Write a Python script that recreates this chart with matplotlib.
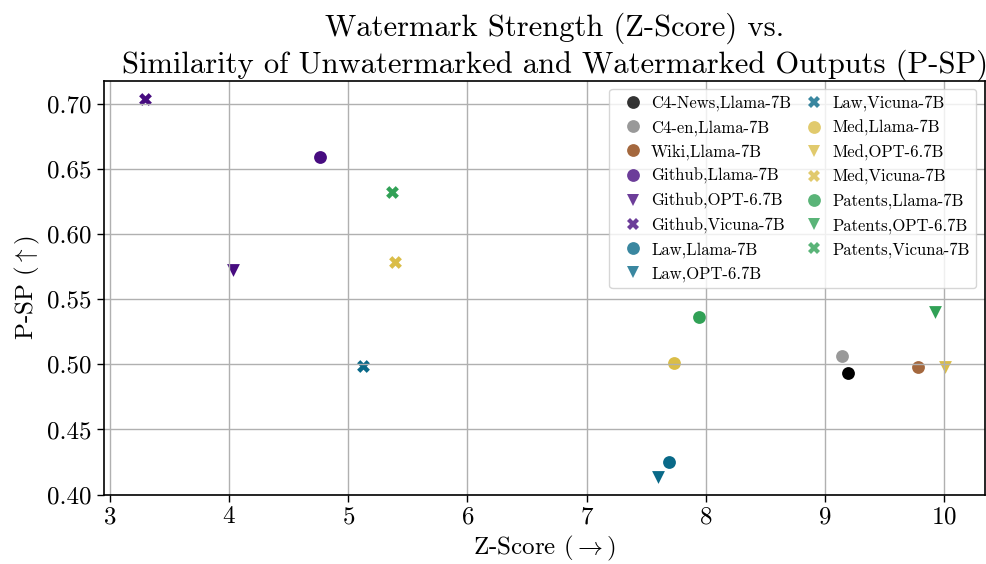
import matplotlib
matplotlib.use("Agg")
import matplotlib.pyplot as plt
from matplotlib.lines import Line2D

plt.rcParams['font.family'] = ['cmr10', 'DejaVu Serif']
plt.rcParams['mathtext.fontset'] = 'cm'
plt.rcParams['axes.formatter.use_mathtext'] = True
plt.rcParams['axes.unicode_minus'] = False

# Data
labels = ["C4-News,Llama-7B", "C4-en,Llama-7B", "Wiki,Llama-7B",
          "Github,Llama-7B", "Github,OPT-6.7B", "Github,Vicuna-7B",
          "Law,Llama-7B", "Law,OPT-6.7B", "Law,Vicuna-7B",
          "Med,Llama-7B", "Med,OPT-6.7B", "Med,Vicuna-7B",
          "Patents,Llama-7B", "Patents,OPT-6.7B", "Patents,Vicuna-7B"]
z_score = [9.19, 9.14, 9.78,
           4.765, 4.03, 3.29,
           7.694, 7.60, 5.12,
           7.733, 10.005, 5.394,
           7.942, 9.926, 5.366]
p_sp = [0.4935, 0.5065, 0.4982,
        0.6596, 0.5725, 0.7040,
        0.4247, 0.4138, 0.4986,
        0.5011, 0.4978, 0.5790,
        0.5364, 0.5405, 0.6323]

# Styles
dataset_colors = {"C4-News": "#000000", "C4-en": "#808080", "Wiki": "#8e420e",
                  "Github": "#470c80", "Law": "#096988", "Med": "#dabd48",
                  "Patents": "#31a156"}
dataset_alpha = {"C4-News": 1.0, "C4-en": 0.8, "Wiki": 0.8, "Github": 1.0,
                 "Law": 1.0, "Med": 1.0, "Patents": 1.0}
model_markers = {"Llama-7B": "o", "OPT-6.7B": "v", "Vicuna-7B": "X"}

fig = plt.figure(figsize=(9.87, 5.64), dpi=100)
ax = fig.add_axes([0.1049, 0.1232, 0.8926, 0.7337])

handles = []
for lab, x, y in zip(labels, z_score, p_sp):
    ds, model = lab.split(",")
    ax.scatter([x], [y], s=85, marker=model_markers[model], color=dataset_colors[ds],
               alpha=dataset_alpha[ds], linewidths=0, zorder=1)
    handles.append(Line2D([], [], linestyle="none", marker=model_markers[model],
                          markersize=9.2, markeredgewidth=0,
                          color=dataset_colors[ds], alpha=0.8, label=lab))

ax.set_xlim(2.945, 10.34)
ax.set_ylim(0.40, 0.718)
ax.set_xticks([3, 4, 5, 6, 7, 8, 9, 10])
ax.set_yticks([0.40, 0.45, 0.50, 0.55, 0.60, 0.65, 0.70])
ax.set_yticklabels(["0.40", "0.45", "0.50", "0.55", "0.60", "0.65", "0.70"])
ax.grid(True, color="#b0b0b0", linewidth=1.0)
ax.tick_params(labelsize=18, length=5, width=1)
for sp in ax.spines.values():
    sp.set_linewidth(1.2)

ax.set_xlabel(r"Z-Score ($\rightarrow$)", fontsize=18)
ax.set_ylabel(r"P-SP ($\uparrow$)", fontsize=18)
ax.set_title("Watermark Strength (Z-Score) vs.\nSimilarity of Unwatermarked and Watermarked Outputs (P-SP)",
             fontsize=22, x=0.512)

ax.legend(handles=handles, ncol=2, loc="upper right", fontsize=12,
          framealpha=0.8, handlelength=2.0, handletextpad=0.1,
          columnspacing=0.35, borderaxespad=0.5)

fig.savefig("out.png", dpi=100)
